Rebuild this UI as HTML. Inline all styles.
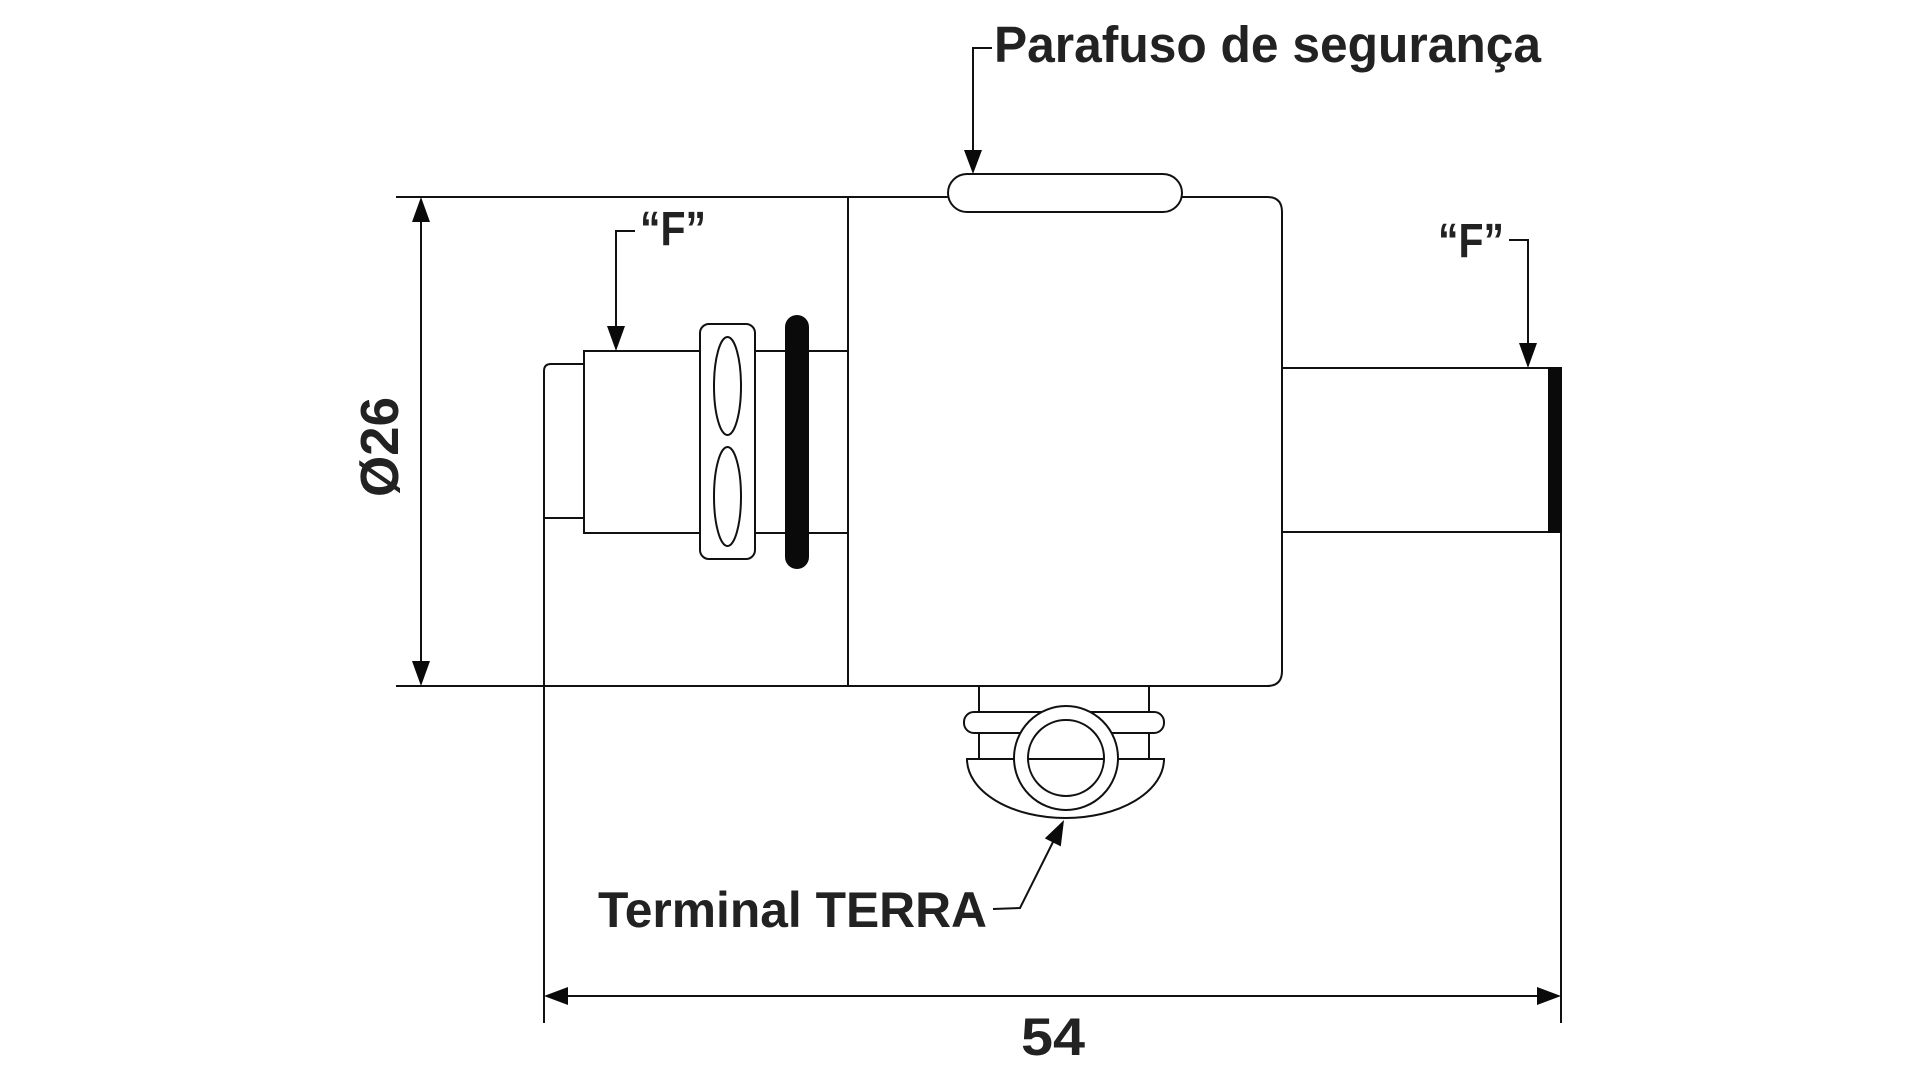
<!DOCTYPE html>
<html>
<head>
<meta charset="utf-8">
<style>
  html,body{margin:0;padding:0;background:#fff;}
  svg{display:block;}
  text{font-family:"Liberation Sans",Arial,sans-serif;font-weight:bold;fill:#222;}
</style>
</head>
<body>
<svg width="1920" height="1080" viewBox="0 0 1920 1080" xmlns="http://www.w3.org/2000/svg">
  <rect x="0" y="0" width="1920" height="1080" fill="#fff"/>
  <g fill="none" stroke="#111" stroke-width="2">
    <!-- extension lines top/bottom -->
    <line x1="396" y1="197" x2="948" y2="197"/>
    <line x1="396" y1="686" x2="1268" y2="686"/>
    <!-- body right part top -->
    <path d="M1182,197 L1267,197 Q1282,197 1282,212 L1282,671 Q1282,686 1267,686"/>
    <!-- divider -->
    <line x1="848" y1="197" x2="848" y2="686"/>
    <!-- vertical dimension line -->
    <line x1="421" y1="215" x2="421" y2="668"/>
    <!-- left piece + left extension line -->
    <path d="M584,364 L551,364 Q544,364 544,371 L544,1023"/>
    <line x1="544" y1="518" x2="584" y2="518"/>
    <!-- left tube -->
    <path d="M848,351 L584,351 L584,533 L848,533"/>
    <!-- right tube -->
    <line x1="1282" y1="368" x2="1549" y2="368"/>
    <line x1="1282" y1="532" x2="1549" y2="532"/>
    <!-- right extension line -->
    <line x1="1561" y1="532" x2="1561" y2="1023"/>
    <!-- horizontal dim line -->
    <line x1="560" y1="996" x2="1545" y2="996"/>
    <!-- leaders -->
    <path d="M992,48 L973,48 L973,155"/>
    <path d="M635,231 L616,231 L616,330"/>
    <path d="M1509,240 L1528,240 L1528,346"/>
    <path d="M993,909 L1020,908 L1054,840"/>
  </g>

  <!-- screw -->
  <rect x="948" y="174" width="234" height="38" rx="19" ry="19" fill="#fff" stroke="#111" stroke-width="2"/>

  <!-- nut -->
  <rect x="700" y="324" width="55" height="235" rx="9" ry="9" fill="#fff" stroke="#111" stroke-width="2"/>
  <ellipse cx="727.5" cy="386" rx="13.5" ry="49" fill="#fff" stroke="#111" stroke-width="2"/>
  <ellipse cx="727.5" cy="496.5" rx="13.5" ry="49.5" fill="#fff" stroke="#111" stroke-width="2"/>

  <!-- black O-ring bar -->
  <rect x="785" y="315" width="24" height="254" rx="12" ry="12" fill="#0a0a0a"/>

  <!-- right black end -->
  <rect x="1548" y="367" width="14" height="166" fill="#0a0a0a"/>

  <!-- terminal -->
  <g stroke="#111" stroke-width="2">
    <line x1="979" y1="686" x2="979" y2="759"/>
    <line x1="1149" y1="686" x2="1149" y2="759"/>
    <rect x="964" y="712" width="200" height="21" rx="10" ry="10" fill="#fff"/>
    <path d="M967,759 L1164,759 A98.5,59 0 0 1 967,759 Z" fill="#fff"/>
    <circle cx="1066" cy="758" r="52" fill="#fff"/>
    <circle cx="1066" cy="758" r="38" fill="#fff"/>
    <line x1="1028" y1="759" x2="1104" y2="759"/>
  </g>

  <!-- arrowheads -->
  <g fill="#0a0a0a" stroke="none">
    <polygon points="421,197 412,222 430,222"/>
    <polygon points="421,686 412,661 430,661"/>
    <polygon points="544,996 568,987 568,1005"/>
    <polygon points="1561,996 1537,987 1537,1005"/>
    <polygon points="973,174 964,150 982,150"/>
    <polygon points="616,351 607,326 625,326"/>
    <polygon points="1528,368 1519,343 1537,343"/>
    <polygon points="1064,820 1044.8,838.4 1060.8,846.4"/>
  </g>

  <!-- labels -->
  <text x="994" y="62" font-size="51" textLength="547" lengthAdjust="spacingAndGlyphs">Parafuso de segurança</text>
  <text x="640" y="245" font-size="48" textLength="66" lengthAdjust="spacingAndGlyphs">“F”</text>
  <text x="1438" y="257" font-size="48" textLength="66" lengthAdjust="spacingAndGlyphs">“F”</text>
  <text x="598" y="927" font-size="50" textLength="389" lengthAdjust="spacingAndGlyphs">Terminal TERRA</text>
  <text x="1021" y="1055" font-size="53" textLength="64" lengthAdjust="spacingAndGlyphs">54</text>
  <text transform="translate(398,497) rotate(-90)" font-size="54" textLength="100" lengthAdjust="spacingAndGlyphs">Ø26</text>
</svg>
</body>
</html>
